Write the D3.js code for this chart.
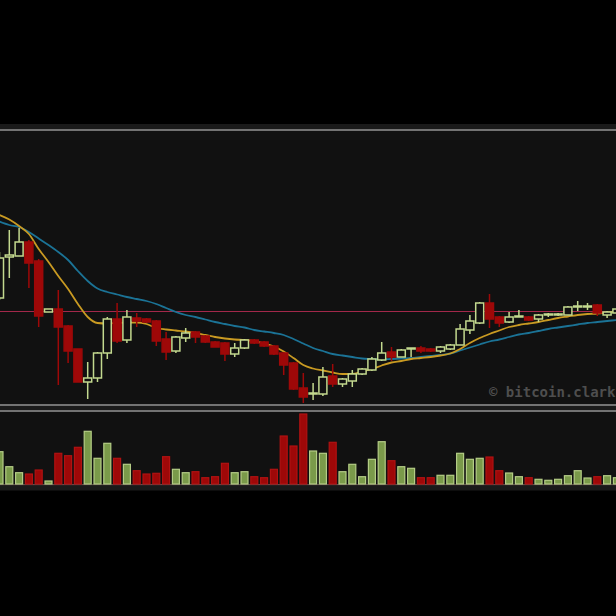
<!DOCTYPE html>
<html>
<head>
<meta charset="utf-8">
<script src="https://cdn.jsdelivr.net/npm/d3@7"></script>
<style>
  html, body { margin: 0; padding: 0; background: #000; }
  svg { display: block; }
</style>
</head>
<body>
<svg id="chart" width="616" height="616"></svg>
<script>
// ---- Data ----
const opens  = [202,243,244,258,239,188,191,174,151,118,122,147,181,160,182,181,179,161,149,162,168,164,158,157,146,152,160,158,154,147,137,112,106,106,124,116,119,126,130,140,148,143,151,152,151,149,151,155,170,177,197,183,178,183,183,181,185,185,185,193,193,195,185,187];
const highs  = [248,270,272,260,241,191,210,175,151,138,148,183,197,190,187,182,180,168,164,172,169,165,159,158,157,161,161,159,155,148,138,127,117,133,136,122,130,132,143,158,153,151,152,154,152,154,156,176,185,198,206,184,188,190,184,186,187,187,194,199,197,196,189,192];
const lows   = [200,222,244,212,173,188,115,137,118,101,118,141,157,157,173,177,154,140,147,158,157,157,153,139,143,151,156,153,145,125,110,97,100,104,113,113,113,125,129,139,139,143,143,147,148,147,150,155,166,176,172,173,177,183,179,178,183,184,185,189,190,184,182,186];
const closes = [242,245,258,237,184,191,173,149,118,122,147,181,159,183,179,178,159,148,163,167,163,158,153,146,152,160,157,154,146,135,111,103,107,123,116,121,126,131,141,147,143,150,152,149,149,153,155,171,179,197,181,177,183,184,180,185,186,186,193,194,194,187,188,191];
const volumes = [32.3,17.3,11.3,10,14,3,30.7,28.3,36.7,52.7,25.7,40.7,25.7,19.7,13.3,10,10.7,27.3,14.7,11.3,12.3,6.3,7.3,20.7,11.3,12.3,7.3,6.3,14.7,48,38,70,33,30.7,41.7,12.3,19.7,7.3,24.7,42.3,23.3,17.3,15.7,6.3,6.3,8.7,8.7,30.7,24.7,25.7,27,13.3,11,7.3,6.3,4.7,3.7,4.7,8.3,13.3,6,7.3,8.3,6.3];
const maFast = [285,280.5,274,266,251,238,224,211,196,183,177,176.5,177,177.5,177.5,176,172,170.5,169.5,168.5,167,165,163,161.5,160.5,160,159,156.5,153.5,148.5,142,135,131.5,129.5,127.5,126,126,128.5,131,134.5,137.5,139,141,142,143,144.5,146.5,151,157,162,166,169.5,173,175,176.5,178,180,182,183.5,185,186,186.5,187.5,188.5];
const maSlow = [278.5,275,273,268,261.5,255,248,240,229,219,211.5,208,205.5,203,201,199,196,192,188,185,183,180.5,178,176,174,172.5,170,168.5,167,165,161,156.5,152,149,146,144.5,143,141.5,141,140.5,141,141.5,142,143,144,145,146.5,149.5,152.5,155.5,158.5,160.5,163,165.5,167,169,171,172.5,174,175.5,177,178,179,180];
const refPrice = 189;
const watermark = "© bitcoin.clark";

// ---- Layout ----
const W = 616, H = 616;
const priceTop = 131, priceBottom = 404;
const volTop = 411, volBottom = 484;

const svg = d3.select("#chart");
const idx = d3.range(opens.length);

const x = d3.scaleLinear().domain([0, opens.length - 1]).range([-0.5, 616.9]);
const y = d3.scaleLinear().domain([96, 369]).range([priceBottom, priceTop]);
const yv = d3.scaleLinear().domain([0, 73]).range([volBottom, volTop]);

const GREEN_STROKE = "#c3d98f";
const GREEN_FILL_VOL = "#7a9a4a";
const GREEN_STROKE_VOL = "#b4cc86";
const RED = "#9e0808";
const RED_STROKE_VOL = "#b01212";

// backgrounds
svg.append("rect").attr("width", W).attr("height", H).attr("fill", "#000");
svg.append("rect").attr("x", 0).attr("y", 124).attr("width", W).attr("height", 6).attr("fill", "#1a1a1a");
svg.append("rect").attr("x", 0).attr("y", 129).attr("width", W).attr("height", 2).attr("fill", "#737373");
svg.append("rect").attr("x", 0).attr("y", priceTop).attr("width", W).attr("height", priceBottom - priceTop).attr("fill", "#111");
svg.append("rect").attr("x", 0).attr("y", 404).attr("width", W).attr("height", 2).attr("fill", "#737373");
svg.append("rect").attr("x", 0).attr("y", 406).attr("width", W).attr("height", 4).attr("fill", "#1a1a1a");
svg.append("rect").attr("x", 0).attr("y", 410).attr("width", W).attr("height", 2).attr("fill", "#737373");
svg.append("rect").attr("x", 0).attr("y", 412).attr("width", W).attr("height", volBottom - 412).attr("fill", "#111");
svg.append("rect").attr("x", 0).attr("y", volBottom).attr("width", W).attr("height", 1.5).attr("fill", "#5e4c4c");
svg.append("rect").attr("x", 0).attr("y", volBottom + 1.5).attr("width", W).attr("height", 5).attr("fill", "#1a1a1a");

// watermark
svg.append("text")
  .attr("x", 489).attr("y", 397)
  .attr("font-family", "'DejaVu Sans Mono', monospace")
  .attr("font-size", 14)
  .attr("font-weight", "bold")
  .attr("fill", "#4e4e4e")
  .text(watermark);

// reference line
svg.append("line")
  .attr("x1", 0).attr("x2", W)
  .attr("y1", Math.round(y(refPrice)) + 0.5).attr("y2", Math.round(y(refPrice)) + 0.5)
  .attr("stroke", "#a3284a").attr("stroke-width", 1);

// moving averages
const line = arr => d3.line().x((d, i) => x(i)).y(d => y(d)).curve(d3.curveMonotoneX)(arr);
svg.append("path").attr("d", line(maSlow)).attr("fill", "none").attr("stroke", "#1b7396").attr("stroke-width", 1.8);
svg.append("path").attr("d", line(maFast)).attr("fill", "none").attr("stroke", "#c99a22").attr("stroke-width", 1.8);

// candles
const bodyW = 8;
const candles = svg.append("g").selectAll("g").data(idx).join("g");
candles.append("line")
  .attr("x1", i => x(i)).attr("x2", i => x(i))
  .attr("y1", i => y(highs[i])).attr("y2", i => y(lows[i]))
  .attr("stroke", i => closes[i] >= opens[i] ? GREEN_STROKE : RED)
  .attr("stroke-width", 1.5);
candles.append("rect")
  .attr("x", i => x(i) - bodyW / 2)
  .attr("width", bodyW)
  .attr("y", i => y(Math.max(opens[i], closes[i])))
  .attr("height", i => Math.max(1, Math.abs(y(opens[i]) - y(closes[i]))))
  .attr("fill", i => closes[i] >= opens[i] ? "#111" : RED)
  .attr("stroke", i => closes[i] >= opens[i] ? GREEN_STROKE : RED)
  .attr("stroke-width", 1.5);

// volume bars
svg.append("g").selectAll("rect").data(idx).join("rect")
  .attr("x", i => x(i) - bodyW / 2 + 0.5)
  .attr("width", bodyW - 1)
  .attr("y", i => yv(volumes[i]))
  .attr("height", i => yv(0) - yv(volumes[i]))
  .attr("fill", i => closes[i] >= opens[i] ? GREEN_FILL_VOL : RED)
  .attr("stroke", i => closes[i] >= opens[i] ? GREEN_STROKE_VOL : RED_STROKE_VOL)
  .attr("stroke-width", 1.2);
</script>
</body>
</html>
